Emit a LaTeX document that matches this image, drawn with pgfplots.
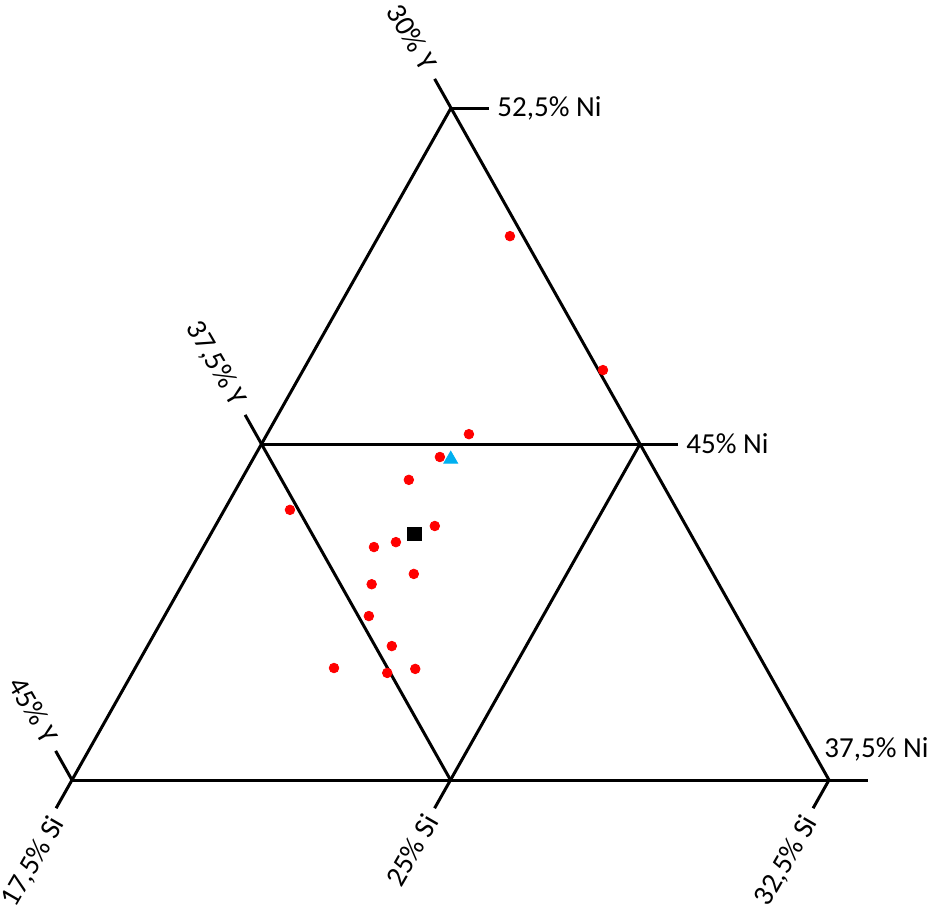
\documentclass[border=0pt]{standalone}
\usepackage{pgfplots}
\pgfplotsset{compat=1.18}
\usepackage{pgfplotstable}
\usepackage{fontspec}
\setmainfont{Carlito}
\definecolor{ptred}{RGB}{255,0,0}
\definecolor{ptblue}{RGB}{0,176,240}

% composition in at.% (Si, Ni); Y = 100 - Si - Ni
\pgfplotstableread{
Si Ni
20.10 49.64
23.44 46.65
21.50 45.22
21.18 44.71
20.82 44.20
18.80 43.53
21.85 43.17
21.26 42.81
20.88 42.70
21.97 42.10
21.25 41.87
21.55 41.16
22.34 40.49
21.44 40.00
22.55 39.89
23.06 39.98
}\redpts

\pgfplotstableread{
Si Ni
21.53 42.99
}\blackpt

\pgfplotstableread{
Si Ni
21.42 44.66
}\bluept

\pgfplotsset{table/tern/.style={
  x expr={72+757/15*(\thisrow{Si}-17.5)+379/15*(\thisrow{Ni}-37.5)},
  y expr={780-672/15*(\thisrow{Ni}-37.5)}},
  frame/.style={black, solid, no markers, line width=1.5pt}}

\begin{document}
\begin{tikzpicture}
\begin{axis}[name=ax,
  x=0.5pt, y=0.5pt,
  xmin=0, xmax=930, ymin=0, ymax=911,
  y dir=reverse,
  hide axis, clip=false,
  nodes={font=\fontsize{14.5}{16}\selectfont, inner sep=0pt},
]
% frame and grid lines (with tick extensions)
\addplot[frame] table[tern, row sep=\\]{Si Ni\\ 17.5 37.5\\ 33.27 37.5\\};
\addplot[frame] table[tern, row sep=\\]{Si Ni\\ 17.5 45\\ 25.75 45\\};
\addplot[frame] table[tern, row sep=\\]{Si Ni\\ 17.5 52.5\\ 18.25 52.5\\};
\addplot[frame] table[tern, row sep=\\]{Si Ni\\ 17.5 36.87\\ 17.5 52.5\\};
\addplot[frame] table[tern, row sep=\\]{Si Ni\\ 32.5 37.5\\ 16.85 53.15\\};
\addplot[frame] table[tern, row sep=\\]{Si Ni\\ 25 37.5\\ 16.85 45.65\\};
\addplot[frame] table[tern, row sep=\\]{Si Ni\\ 17.5 37.5\\ 16.85 38.15\\};
\addplot[frame] table[tern, row sep=\\]{Si Ni\\ 25 36.87\\ 25 45\\};
\addplot[frame] table[tern, row sep=\\]{Si Ni\\ 32.5 36.87\\ 32.5 37.5\\};

% data points
\addplot[only marks, mark=*, mark size=2.4pt, color=ptred, line width=0.4pt] table[tern] {\redpts};
\addplot[only marks, mark=square*, mark size=3.4pt, color=black, line width=0.4pt] table[tern] {\blackpt};
\addplot[only marks, mark=triangle*, mark size=4pt, color=ptblue, line width=0.4pt] table[tern] {\bluept};

% labels
\node[anchor=west] at (axis cs:497,108) {52,5\% Ni};
\node[anchor=west] at (axis cs:686,444) {45\% Ni};
\node[anchor=base west] at (axis cs:824,757) {37,5\% Ni};
\node[anchor=east, rotate=-60] at (axis cs:429.8,68.2) {30\% Y};
\node[anchor=east, rotate=-60] at (axis cs:239.2,404.2) {37,5\% Y};
\node[anchor=east, rotate=-60] at (axis cs:51.7,741.2) {45\% Y};
\node[anchor=east, rotate=60] at (axis cs:58.2,818.9) {17,5\% Si};
\node[anchor=east, rotate=60] at (axis cs:431.2,816.9) {25\% Si};
\node[anchor=east, rotate=60] at (axis cs:811.2,817.9) {32,5\% Si};
\end{axis}
\pgfresetboundingbox
\useasboundingbox (ax.south west) rectangle (ax.north east);
\end{tikzpicture}
\end{document}
